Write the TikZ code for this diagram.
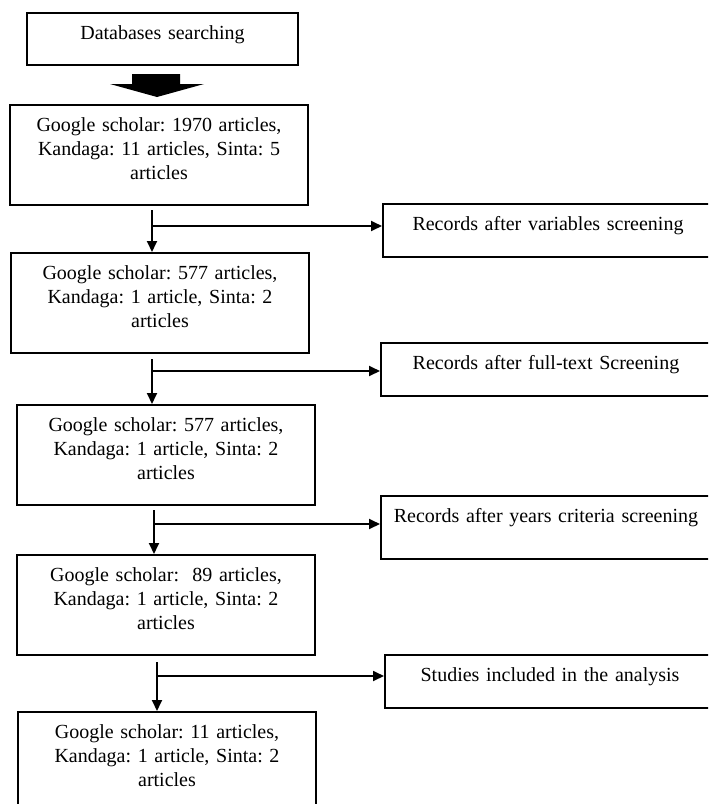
\documentclass[tikz,border=0pt]{standalone}
\usepackage{fontspec}
\setmainfont{Liberation Serif}
\usetikzlibrary{arrows.meta}
\frenchspacing

\begin{document}
\begin{tikzpicture}[x=0.5pt, y=-0.5pt, line join=miter,
    stage/.style={draw, line width=1pt, anchor=north west, align=center,
        inner xsep=3pt, inner ysep=6pt, text width=143pt,
        text height=7pt, text depth=31pt},
    record/.style={draw, line width=1pt, anchor=north west, align=center,
        inner xsep=3pt, inner ysep=6pt, text width=159pt,
        text height=7pt, text depth=7.5pt},
    flow/.style={line width=0.9pt, -{Triangle[length=5.5pt, width=5pt]}}]

    % Page frame (right boxes and last box run past the edge)
    \useasboundingbox (0,0) rectangle (708,804);
    \clip (0,0) rectangle (708,804);

    % ==========================================
    % LEFT COLUMN: SEARCH STAGES
    % ==========================================

    \node[record, text width=129.5pt, text depth=7pt] (dbs) at (26,12) {Databases searching};

    % Big block arrow under the first box
    \fill[black] (132,74) -- (180,74) -- (180,84) -- (204,84) -- (157,97)
        -- (110,84) -- (132,84) -- cycle;

    \node[stage] (s1) at (9,104) {Google scholar: 1970 articles,\\ Kandaga: 11 articles, Sinta: 5\\ articles};
    \node[stage] (s2) at (10,252) {Google scholar: 577 articles,\\ Kandaga: 1 article, Sinta: 2\\ articles};
    \node[stage] (s3) at (16,404) {Google scholar: 577 articles,\\ Kandaga: 1 article, Sinta: 2\\ articles};
    \node[stage] (s4) at (16,554) {Google scholar: \ 89 articles,\\ Kandaga: 1 article, Sinta: 2\\ articles};
    \node[stage] (s5) at (17,711) {Google scholar: 11 articles,\\ Kandaga: 1 article, Sinta: 2\\ articles};

    % ==========================================
    % RIGHT COLUMN: SCREENING STEPS
    % ==========================================

    \node[record] (r1) at (382,203) {Records after variables screening};
    \node[record] (r2) at (380,342) {Records after full-text Screening};
    \node[record, text depth=12.5pt] (r3) at (380,495) {Records after years criteria screening};
    \node[record] (r4) at (384,654) {Studies included in the analysis};

    % ==========================================
    % CONNECTORS
    % ==========================================

    % Branch points on the vertical lines
    \coordinate (j1) at (152,226);
    \coordinate (j2) at (152,371);
    \coordinate (j3) at (154,524);
    \coordinate (j4) at (157,676);

    \draw[flow] (s1.south -| j1) ++(0,4) -- (s2.north -| j1);
    \draw[flow] (j1) -- (j1 -| r1.west);

    \draw[flow] (s2.south -| j2) ++(0,5) -- (s3.north -| j2);
    \draw[flow] (j2) -- (j2 -| r2.west);

    \draw[flow] (s3.south -| j3) ++(0,4) -- (s4.north -| j3);
    \draw[flow] (j3) -- (j3 -| r3.west);

    \draw[flow] (s4.south -| j4) ++(0,6) -- (s5.north -| j4);
    \draw[flow] (j4) -- (j4 -| r4.west);

\end{tikzpicture}
\end{document}
